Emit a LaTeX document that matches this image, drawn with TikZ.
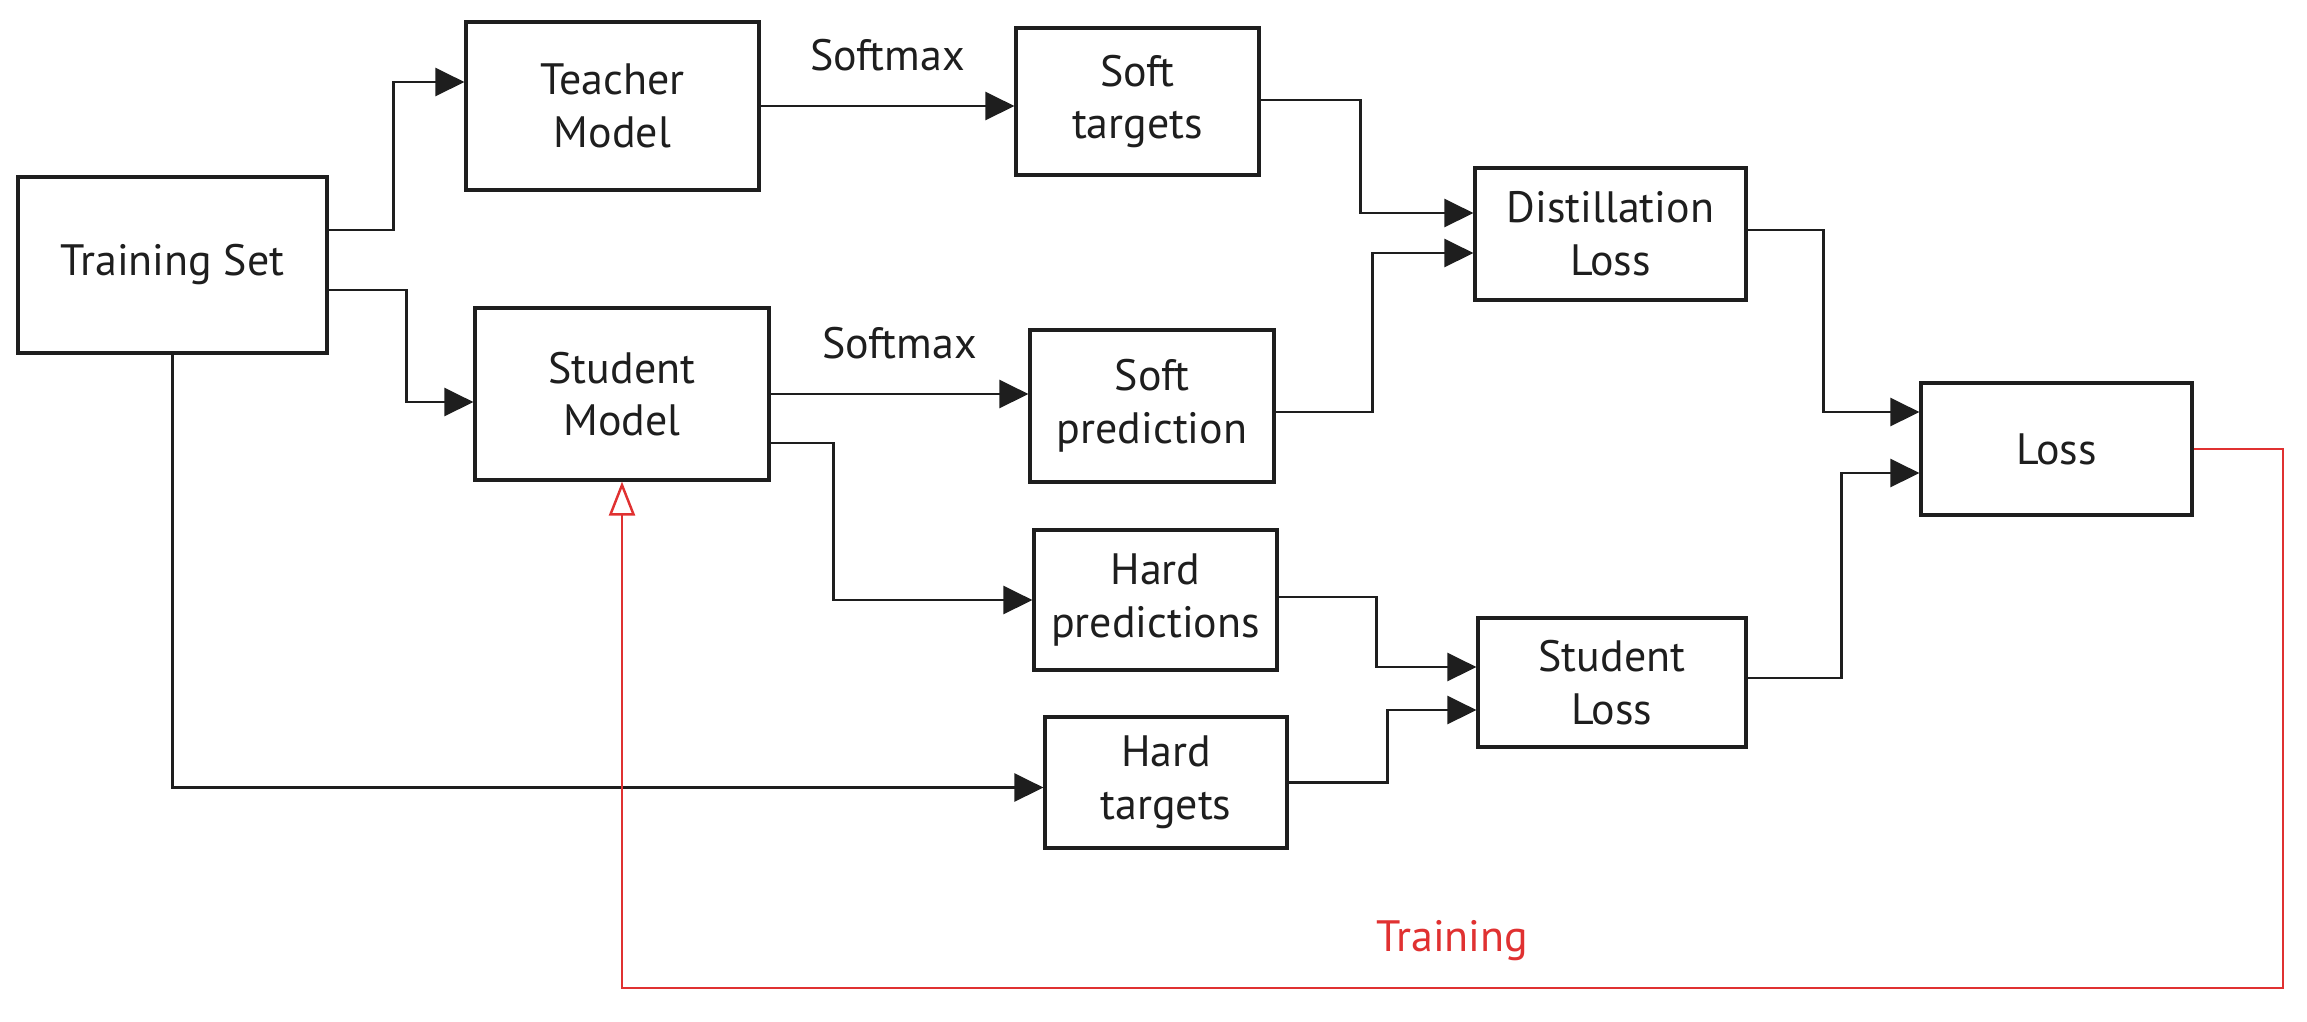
\documentclass[tikz,border=0pt]{standalone}
\usepackage{xcolor}
\usepackage{tikz}
\usetikzlibrary{shapes, arrows.meta, positioning}
\usepackage{fontspec}
\setmainfont{PT Sans}
\definecolor{inkblack}{HTML}{1E1E1E}
\definecolor{inkred}{HTML}{E03131}

\begin{document}
\begin{tikzpicture}[
            blockbox/.style={draw=inkblack, rectangle, line width=0.9pt, align=center, inner sep=0pt, text=inkblack, font=\fontsize{12.5}{15}\selectfont},
            conn/.style={draw=inkblack, line width=0.7pt, -{Triangle[length=0.29cm, width=0.28cm]}},
            feedback/.style={draw=inkred, line width=0.7pt, -{Triangle[open, length=0.34cm, width=0.26cm]}},
            lbl/.style={text=inkblack, font=\fontsize{12.5}{15}\selectfont}
        ]
            \useasboundingbox (0,0) rectangle (23.07,-10.21);
            \node[blockbox, minimum width=3.09cm, minimum height=1.76cm] (trainset) at (1.725,-2.65) {Training Set};
            \node[blockbox, minimum width=2.93cm, minimum height=1.68cm] (teacher) at (6.125,-1.06) {Teacher\\Model};
            \node[blockbox, minimum width=2.94cm, minimum height=1.72cm] (student) at (6.22,-3.94) {Student\\Model};
            \node[blockbox, minimum width=2.43cm, minimum height=1.47cm] (softtgt) at (11.375,-1.015) {Soft\\targets};
            \node[blockbox, minimum width=2.44cm, minimum height=1.52cm] (softpred) at (11.52,-4.06) {Soft\\prediction};
            \node[blockbox, minimum width=2.43cm, minimum height=1.40cm] (hardpred) at (11.555,-6.00) {Hard\\predictions};
            \node[blockbox, minimum width=2.42cm, minimum height=1.31cm] (hardtgt) at (11.66,-7.825) {Hard\\targets};
            \node[blockbox, minimum width=2.71cm, minimum height=1.32cm] (distloss) at (16.105,-2.34) {Distillation\\Loss};
            \node[blockbox, minimum width=2.68cm, minimum height=1.29cm] (studloss) at (16.12,-6.825) {Student\\Loss};
            \node[blockbox, minimum width=2.71cm, minimum height=1.32cm] (loss) at (20.565,-4.49) {Loss};
            \coordinate (fbcorner) at (22.83,-9.88);

            \draw[conn] ([yshift=0.35cm]trainset.east) -- ++(0.65,0) |- ([yshift=0.24cm]teacher.west);
            \draw[conn] ([yshift=-0.25cm]trainset.east) -- ++(0.78,0) |- ([yshift=-0.08cm]student.west);
            \draw[conn] (teacher.east) -- (teacher.east -| softtgt.west) node[lbl, midway, above=0.22cm] {Softmax};
            \draw[conn] (student.east) -- (student.east -| softpred.west) node[lbl, midway, above=0.22cm] {Softmax};
            \draw[conn] ([yshift=-0.49cm]student.east) -- ++(0.63,0) |- (hardpred.west);
            \draw[conn] (trainset.south) |- ([yshift=-0.05cm]hardtgt.west);
            \draw[conn] ([yshift=0.015cm]softtgt.east) -- ++(1.0,0) |- ([yshift=0.21cm]distloss.west);
            \draw[conn] ([yshift=-0.06cm]softpred.east) -- ++(0.97,0) |- ([yshift=-0.19cm]distloss.west);
            \draw[conn] ([yshift=0.04cm]distloss.east) -- ++(0.76,0) |- ([yshift=0.37cm]loss.west);
            \draw[conn] ([yshift=0.045cm]studloss.east) -- ++(0.94,0) |- ([yshift=-0.24cm]loss.west);
            \draw[conn] ([yshift=0.03cm]hardpred.east) -- ++(0.98,0) |- ([yshift=0.155cm]studloss.west);
            \draw[conn] (hardtgt.east) -- ++(0.99,0) |- ([yshift=-0.275cm]studloss.west);
            \draw[feedback] (loss.east) -| (fbcorner) -| (student.south) node[pos=0.25, above=0.14cm, text=inkred, font=\fontsize{12.5}{15}\selectfont] {Training};
        \end{tikzpicture}
\end{document}
